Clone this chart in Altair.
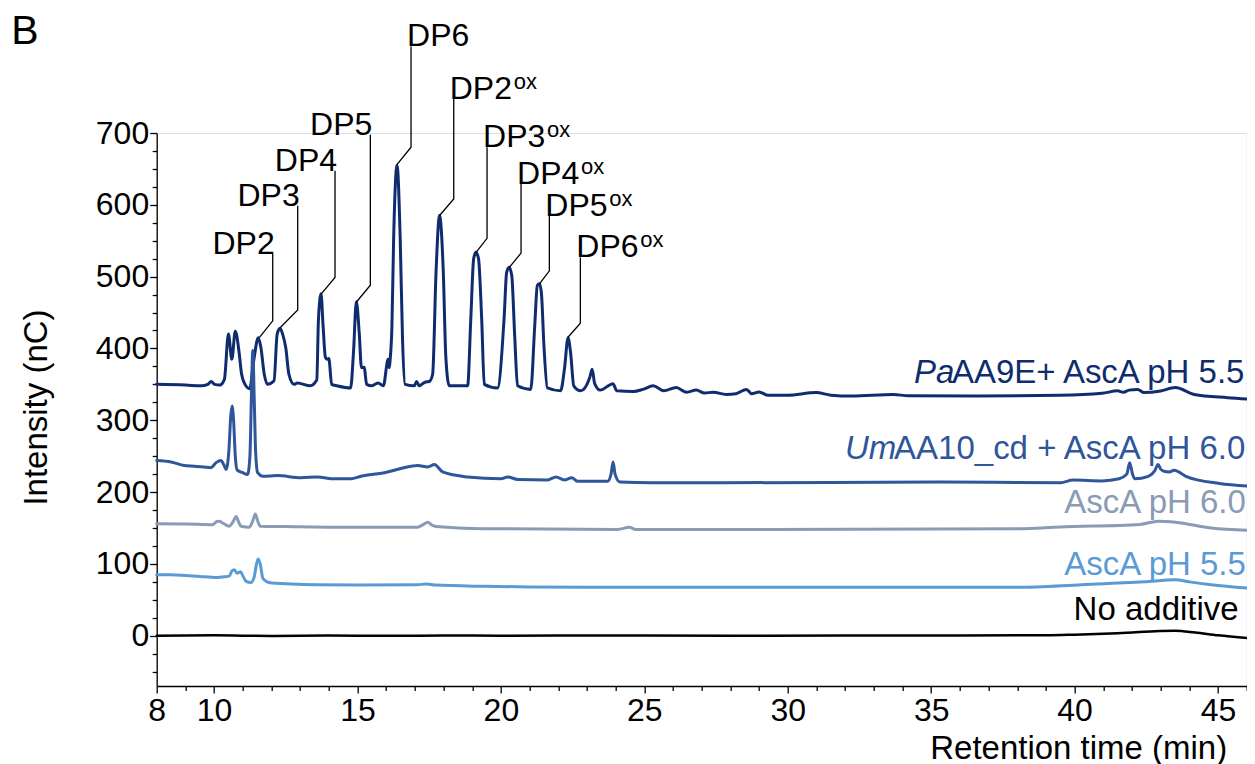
import altair as alt
import pandas as pd

FONT = "Liberation Sans"

# ---------------- series data (retention time, intensity) ----------------
pa_t = [8.0, 9.0, 9.55, 9.78, 9.9, 10.02, 10.2, 10.36, 10.5, 10.62, 10.74, 10.88, 10.96, 11.08, 11.24,
        11.39, 11.54, 11.63, 11.75, 11.86, 12.09, 12.2, 12.3, 12.39, 12.5, 12.61, 12.79, 12.9, 13.35,
        13.58, 13.64, 13.73, 13.8, 13.88, 13.94, 14.0, 14.1, 14.29, 14.76, 14.86, 14.96, 15.06, 15.14,
        15.23, 15.32, 15.5, 15.72, 15.9, 16.07, 16.11, 16.14, 16.2, 16.26, 16.38, 16.49, 16.57, 16.66,
        16.98, 17.06, 17.15, 17.35, 17.5, 17.62, 17.74, 17.86, 17.99, 18.08, 18.2, 18.84, 18.95, 19.05,
        19.13, 19.22, 19.33, 19.42, 19.88, 20.11, 20.2, 20.29, 20.38, 20.48, 20.58, 21.04, 21.18, 21.27,
        21.34, 21.41, 21.5, 21.62, 22.08, 22.22, 22.34, 22.43, 22.54, 22.78, 23.1, 23.18, 23.27, 23.46,
        23.91, 24.04, 24.62, 24.95, 25.31, 25.68, 26.11, 26.48, 26.81, 27.1, 27.4, 27.86, 28.2, 28.56,
        28.74, 29.0, 29.32, 30.0, 30.99, 31.5, 32.23, 33.69, 34.2, 36.6, 39.5, 40.96, 41.5, 41.7, 41.9,
        42.2, 42.42, 43.0, 43.51, 44.17, 45.34, 46.3]
pa_v = [350, 349, 348, 350, 354, 350, 349, 357, 420, 385, 424, 392, 364, 350, 344,
        385, 415, 402, 364, 350, 355, 420, 428, 420, 401, 364, 350, 352, 348,
        356, 441, 476, 432, 388, 385, 386, 350, 348, 345, 394, 465, 422, 373,
        374, 350, 348, 352, 348, 385, 373, 385, 430, 552, 655, 552, 413, 350,
        348, 354, 348, 353, 354, 364, 508, 585, 508, 388, 348, 348, 441, 525,
        534, 525, 441, 350, 345, 441, 506, 513, 501, 418, 348, 343, 432, 488,
        490, 478, 404, 345, 341, 373, 415, 394, 348, 341, 360, 371, 351, 342,
        351, 341, 340, 343, 348, 341, 345.5, 339, 342, 338, 339, 336, 337, 343,
        337, 339.5, 334.7, 335, 338.5, 335, 333.8, 336, 334, 333.8, 334.7, 337.5, 341, 339, 342,
        343, 338.5, 340.7, 345.5, 336, 331.5, 329]

um_t = [8.0, 8.5, 8.96, 9.31, 9.89, 10.07, 10.24, 10.34, 10.42, 10.52, 10.58, 10.63, 10.68, 10.74,
        10.8, 11.0, 11.17, 11.25, 11.3, 11.35, 11.4, 11.45, 11.52, 11.7, 12.2, 13.03, 13.6, 14.19,
        14.77, 15.12, 15.94, 16.87, 17.1, 17.45, 17.68, 17.97, 18.84, 20.0, 20.24, 20.59, 21.63, 21.92,
        22.21, 22.47, 22.68, 23.72, 23.84, 23.91, 23.98, 24.15, 25.24, 27.86, 35.14, 39.51, 39.95,
        40.96, 41.55, 41.82, 41.92, 42.02, 42.1, 42.57, 42.8, 42.91, 43.0, 43.12, 43.3, 43.47, 43.88,
        45.05, 46.3]
um_v = [244, 242, 237, 236, 234, 241, 244, 238, 231.5, 260, 305, 320, 300, 250,
        231, 227, 224.5, 250, 330, 397, 330, 255, 227, 222, 223, 220, 221, 218.5,
        218.5, 222, 227, 236, 237, 235, 238.5, 228, 221, 218.5, 221, 217.5, 217, 221,
        217, 220, 215, 215, 225, 242, 225, 214, 213, 213, 214, 213, 216.7,
        215.6, 218.5, 225, 241, 225, 218.5, 222, 230, 238.5, 232, 229, 228, 230.5, 222,
        212, 208]

g6_t = [8.0, 9.0, 9.54, 9.94, 10.1, 10.18, 10.3, 10.53, 10.68, 10.77, 10.86, 10.94, 11.23, 11.35,
        11.44, 11.52, 11.61, 12.45, 14.77, 17.1, 17.3, 17.45, 17.6, 17.74, 19.42, 24.07, 24.48, 24.7,
        29.3, 38.05, 39.5, 42.28, 42.93, 43.52, 44.76, 46.3]
g6_v = [156, 155.5, 155, 154.5, 159, 159.5, 157, 152.5, 160, 166, 158, 152.5, 151, 160,
        169.5, 160, 152.5, 152, 151, 151, 155, 158, 154, 152, 149, 148, 151, 148,
        148, 149, 151.5, 155, 159.5, 158, 150, 146.5]

b5_t = [8.0, 8.5, 9.0, 9.5, 10.13, 10.35, 10.53, 10.62, 10.71, 10.8, 10.92, 11.02, 11.11, 11.28,
        11.4, 11.48, 11.54, 11.62, 11.7, 11.85, 12.0, 13.6, 15.0, 17.1, 17.4, 17.7, 19.42, 21.0,
        25.24, 30.0, 38.0, 40.25, 42.42, 43.52, 44.0, 44.76, 46.3]
b5_v = [85, 85, 84, 82.5, 81, 82, 83, 90, 92, 87, 89, 82, 76, 74,
        82, 100, 107, 98, 80, 75, 73.5, 71, 70.5, 71, 72, 70.5, 68.8, 68,
        67.4, 67.4, 67.4, 71, 75, 78, 75, 71, 65.5]

na_t = [8.0, 10.0, 12.0, 14.0, 16.0, 18.0, 20.0, 24.0, 28.0, 32.0, 36.0, 39.0, 40.0, 41.5, 43.5,
        44.2, 45.0, 46.3]
na_v = [0, 0.5, -0.3, 0.4, -0.2, 0.3, 0, 0.3, 0, 0.4, 0.3, 0.6, 1.5, 3.5, 7, 4.5, 0.5, -4]

series_names = ["No additive", "AscA pH 5.5", "AscA pH 6.0", "PaAA9E+ AscA pH 5.5",
                "UmAA10_cd + AscA pH 6.0"]
series_colors = ["#000000", "#5b9bd5", "#8a9bb5", "#0f2d6e", "#2f559a"]
series_widths = [2.5, 3, 3, 3, 3]
series_t = [na_t, b5_t, g6_t, pa_t, um_t]
series_v = [na_v, b5_v, g6_v, pa_v, um_v]

# ---------------- series labels (right end, baseline) ----------------
lab_series = ["PaAA9E+ AscA pH 5.5", "UmAA10_cd + AscA pH 6.0", "AscA pH 6.0", "AscA pH 5.5", "No additive"]
lab_regular = ["AA9E+ AscA pH 5.5", "AA10_cd + AscA pH 6.0", "AscA pH 6.0", "AscA pH 5.5", "No additive"]
lab_italic = ["Pa", "Um", "", "", ""]
lab_t = [45.92, 45.95, 45.97, 45.97, 45.72]
lab_v = [352, 245.5, 171, 85, 21.3]

# ---------------- peak annotations ----------------
dp_names = ["DP2", "DP3", "DP4", "DP5", "DP6", "DP2ox", "DP3ox", "DP4ox", "DP5ox", "DP6ox"]
dp_main = ["DP2", "DP3", "DP4", "DP5", "DP6", "DP2", "DP3", "DP4", "DP5", "DP6"]
dp_sup = ["", "", "", "", "", "ox", "ox", "ox", "ox", "ox"]
dp_side = ["right", "right", "right", "right", "left", "left", "left", "left", "left", "left"]
dp_peak_t = [11.577, 12.31, 13.73, 14.95, 16.368, 17.853, 19.133, 20.294, 21.34, 22.33]
dp_peak_v = [415.2, 429.2, 475.6, 464.0, 655.5, 584.8, 533.7, 512.8, 489.5, 415.2]
dp_elbow_t = [12.045, 12.916, 14.217, 15.448, 16.867, 18.356, 19.517, 20.702, 21.689, 22.77]
dp_elbow_v = [438.4, 453.7, 498.9, 488.1, 680.2, 608.1, 553.3, 532.8, 508.1, 435.1]
dp_top_v = [531.4, 598.7, 647.6, 697.4, 820.5, 747.6, 680.2, 629.0, 584.8, 526.8]

panel_letter = ["B"]
panel_t = [2.93]
panel_v = [824]

# ---------------- tables ----------------
rows = []
for name, ts, vs in zip(series_names, series_t, series_v):
    for i, (t, v) in enumerate(zip(ts, vs)):
        rows.append({"series": name, "t": t, "v": v, "k": i})
lines_df = pd.DataFrame(rows)

lead_rows = []
for n, pt, pv, et, ev, tv in zip(dp_names, dp_peak_t, dp_peak_v, dp_elbow_t, dp_elbow_v, dp_top_v):
    lead_rows += [{"lab": n, "k": 0, "t": pt, "v": pv},
                  {"lab": n, "k": 1, "t": et, "v": ev},
                  {"lab": n, "k": 2, "t": et, "v": tv}]
lead_df = pd.DataFrame(lead_rows)

dp_df = pd.DataFrame({"name": dp_names, "main": dp_main, "sup": dp_sup, "side": dp_side,
                      "t": dp_elbow_t, "v": dp_top_v})
lab_df = pd.DataFrame({"reg": lab_regular, "ital": lab_italic, "t": lab_t, "v": lab_v,
                       "series": lab_series})
panel_df = pd.DataFrame({"txt": panel_letter, "t": panel_t, "v": panel_v})

# ---------------- scales & axes ----------------
xs = alt.Scale(domain=[8, 46], nice=False, zero=False)
ys = alt.Scale(domain=[-70, 700], nice=False, zero=False)

x_major = "datum.value % 5 == 0 || datum.value == 8"
y_major = "datum.value % 100 == 0 && datum.value >= 0"

x_axis = alt.Axis(
    values=list(range(8, 47)),
    labelExpr=f"({x_major}) ? datum.label : ''",
    tickSize={"condition": {"test": x_major, "value": 7}, "value": 4.5},
    labelFont=FONT, labelFontSize=32, labelColor="black", labelPadding=3,
    labelOverlap=False, labelFlush=False,
    domainColor="black", domainWidth=1.3, tickColor="black", tickWidth=1.3, grid=False,
    title="Retention time (min)", titleFont=FONT, titleFontSize=33, titleFontWeight="normal",
    titleColor="black", titleAlign="right", titleBaseline="alphabetic", titleX=1070, titleY=73,
)
y_axis = alt.Axis(
    values=list(range(-50, 701, 25)),
    labelExpr=f"({y_major}) ? datum.label : ''",
    tickSize={"condition": {"test": y_major, "value": 7}, "value": 4.5},
    labelFont=FONT, labelFontSize=32, labelColor="black", labelPadding=1,
    labelOverlap=False, labelFlush=False,
    domainColor="black", domainWidth=1.3, tickColor="black", tickWidth=1.3, grid=False,
    title="Intensity (nC)", titleFont=FONT, titleFontSize=33, titleFontWeight="normal",
    titleColor="black", titleAlign="center", titleBaseline="middle", titleAngle=270,
    titleX=-120, titleY=274,
)

X = alt.X("t:Q", scale=xs, axis=x_axis)
Y = alt.Y("v:Q", scale=ys, axis=y_axis)
color = alt.Color("series:N", scale=alt.Scale(domain=series_names, range=series_colors), legend=None)

layers = []
for name, w in zip(series_names, series_widths):
    layers.append(
        alt.Chart(lines_df[lines_df.series == name]).mark_line(
            interpolate="monotone", strokeWidth=w, strokeJoin="round", strokeCap="round"
        ).encode(x=X, y=Y, color=color, order="k:Q")
    )

leaders = alt.Chart(lead_df).mark_line(color="black", strokeWidth=1.3).encode(
    x=X, y=Y, detail="lab:N", order="k:Q")

dp_right = alt.Chart(dp_df[dp_df.side == "right"]).mark_text(
    align="right", baseline="alphabetic", font=FONT, fontSize=32, color="black", dx=2
).encode(x=X, y=Y, text="main:N")
dp_left = alt.Chart(dp_df[dp_df.side == "left"]).mark_text(
    align="left", baseline="alphabetic", font=FONT, fontSize=32, color="black", dx=-4
).encode(x=X, y=Y, text="main:N")
dp_supl = alt.Chart(dp_df[dp_df.sup != ""]).mark_text(
    align="left", baseline="alphabetic", font=FONT, fontSize=22, color="black", dx=60, dy=-10
).encode(x=X, y=Y, text="sup:N")

lab_reg = alt.Chart(lab_df).mark_text(
    align="right", baseline="alphabetic", font=FONT, fontSize=33
).encode(x=X, y=Y, text="reg:N", color=color)
lab_it_pa = alt.Chart(lab_df.iloc[[0]]).mark_text(
    align="right", baseline="alphabetic", font=FONT, fontSize=33, fontStyle="italic", dx=-290
).encode(x=X, y=Y, text="ital:N", color=color)
lab_it_um = alt.Chart(lab_df.iloc[[1]]).mark_text(
    align="right", baseline="alphabetic", font=FONT, fontSize=33, fontStyle="italic", dx=-349
).encode(x=X, y=Y, text="ital:N", color=color)

panel = alt.Chart(panel_df).mark_text(
    align="left", baseline="alphabetic", font=FONT, fontSize=41, color="black"
).encode(x=X, y=Y, text="txt:N")

chart = alt.layer(
    *layers, leaders, dp_right, dp_left, dp_supl, lab_reg, lab_it_pa, lab_it_um, panel
).properties(
    width=1090, height=553,
    padding={"left": 148.7, "top": 125, "right": 0, "bottom": 86},
    autosize=alt.AutoSizeParams(type="none"),
).configure_view(stroke=None).configure(background="white")

chart.save("out.html", embed_options={"renderer": "svg", "actions": False})
